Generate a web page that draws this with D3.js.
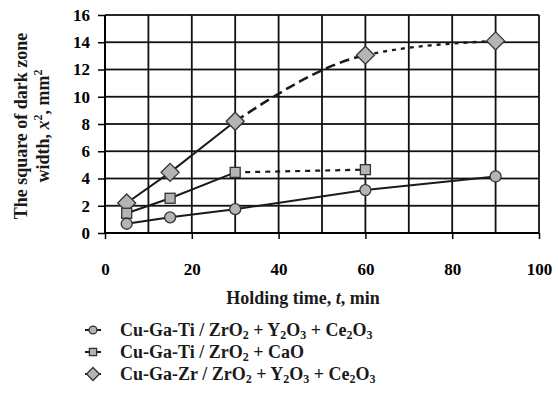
<!DOCTYPE html>
<html><head><meta charset="utf-8">
<script src="https://cdn.jsdelivr.net/npm/d3@7"></script>
<style>body{margin:0;background:#fff}</style>
</head><body><svg id="c" width="558" height="410"></svg>
<script>
const timeMin = [5, 15, 30, 60, 90];
const timeSquare = [5, 15, 30, 60];
const seriesCircle = [0.68, 1.15, 1.75, 3.15, 4.15];
const seriesSquare = [1.45, 2.55, 4.45, 4.65];
const seriesDiamond = [2.2, 4.45, 8.2, 13.05, 14.1];
const xTicks = [0, 20, 40, 60, 80, 100];
const yTicks = [0, 2, 4, 6, 8, 10, 12, 14, 16];
const xGrid = [10, 20, 30, 40, 50, 60, 70, 80, 90, 100];
const yGrid = [2, 4, 6, 8, 10, 12, 14, 16];
const legendLabels = [
  [["Cu-Ga-Ti / ZrO",0],["2",1],[" + Y",0],["2",1],["O",0],["3",1],[" + Ce",0],["2",1],["O",0],["3",1]],
  [["Cu-Ga-Ti / ZrO",0],["2",1],[" + CaO",0]],
  [["Cu-Ga-Zr / ZrO",0],["2",1],[" + Y",0],["2",1],["O",0],["3",1],[" + Ce",0],["2",1],["O",0],["3",1]]
];
const markerTypes = ["circle", "square", "diamond"];

const FONT = "serif";
const svg = d3.select("#c");
const L = 105, R = 539, T = 15, B = 233;
const xs = d3.scaleLinear().domain([0, 100]).range([L, R]);
const ys = d3.scaleLinear().domain([0, 16]).range([B, T]);

// grid drawn as thin filled rectangles
svg.selectAll("rect.hgrid").data(yGrid).enter().append("rect").attr("class", "hgrid")
  .attr("x", L).attr("width", R - L).attr("y", d => ys(d) - 0.9).attr("height", 1.8).attr("fill", "#111");
svg.selectAll("rect.vgrid").data(xGrid).enter().append("rect").attr("class", "vgrid")
  .attr("x", d => xs(d) - 0.9).attr("width", 1.8).attr("y", T).attr("height", B - T).attr("fill", "#111");

// axes
const gx = svg.append("g").attr("transform", `translate(0,${B})`)
  .call(d3.axisBottom(xs).tickValues(xTicks).tickSize(6).tickPadding(24).tickFormat(d3.format("d")));
const gy = svg.append("g").attr("transform", `translate(${L},0)`)
  .call(d3.axisLeft(ys).tickValues(yTicks).tickSize(7).tickPadding(8).tickFormat(d3.format("d")));
[gx, gy].forEach(a => {
  a.attr("font-family", FONT);
  a.select(".domain").attr("stroke-width", 2);
  a.selectAll(".tick line").attr("stroke-width", 1.5);
  a.selectAll("text").attr("font-family", FONT).attr("font-weight", "bold").attr("font-size", 17);
});
gy.select(".domain").attr("d", `M0,${B}V${T}`);
gx.select(".domain").attr("d", `M${L},0H${R}`);

// lines
const line = d3.line().x(d => xs(d[0])).y(d => ys(d[1]));
const pts = (a, b) => a.map((v, i) => [v, b[i]]);
const cPts = pts(timeMin, seriesCircle);
const sPts = pts(timeSquare, seriesSquare);
const dPts = pts(timeMin, seriesDiamond);
const addPath = (d, w, dash) => svg.append("path").attr("d", d).attr("fill", "none").attr("stroke", "#1a1a1a").attr("stroke-width", w).attr("stroke-dasharray", dash);
addPath(line(cPts), 2, null);
addPath(line(sPts.slice(0, 3)), 2, null);
addPath(line(sPts.slice(2)), 2.2, "5,5");
addPath(line(dPts.slice(0, 3)), 2, null);

const segs = [];
const rec = {
  cur: [0, 0],
  moveTo(a, b) { this.cur = [a, b]; },
  lineTo(a, b) { segs.push(`M${this.cur}L${a},${b}`); this.cur = [a, b]; },
  bezierCurveTo(a, b, c, d, e, f) { segs.push(`M${this.cur}C${a},${b},${c},${d},${e},${f}`); this.cur = [e, f]; },
  closePath() {}
};
d3.line().x(d => xs(d[0])).y(d => ys(d[1])).curve(d3.curveMonotoneX).context(rec)(dPts.slice(2));
addPath(segs[0], 2.6, "10,5");
addPath(segs[1], 2.4, "4,5");

// markers
function drawMarker(type, cx, cy, s) {
  let el;
  if (type === "circle") el = svg.append("circle").attr("cx", cx).attr("cy", cy).attr("r", 5.5 * s);
  else if (type === "square") el = svg.append("rect").attr("x", cx - 5 * s).attr("y", cy - 5 * s).attr("width", 10 * s).attr("height", 10 * s);
  else el = svg.append("path").attr("d", `M${cx},${cy - 9 * s}L${cx + 9 * s},${cy}L${cx},${cy + 9 * s}L${cx - 9 * s},${cy}Z`);
  el.attr("fill", "#b4b4b4").attr("stroke", "#333").attr("stroke-width", 1.3);
}
dPts.forEach(p => drawMarker("diamond", xs(p[0]), ys(p[1]), 1));
sPts.forEach(p => drawMarker("square", xs(p[0]), ys(p[1]), 1));
cPts.forEach(p => drawMarker("circle", xs(p[0]), ys(p[1]), 1));

function addText(px, py, size, anchor, transform) {
  const t = svg.append("text").attr("x", px).attr("y", py).attr("font-family", FONT)
    .attr("font-weight", "bold").attr("font-size", size).attr("fill", "#1a1a1a");
  if (anchor) t.attr("text-anchor", anchor);
  if (transform) t.attr("transform", transform);
  return t;
}

// axis titles
addText(303, 304, 18, "middle").call(t => {
  t.append("tspan").text("Holding time, ");
  t.append("tspan").attr("font-style", "italic").text("t");
  t.append("tspan").text(", min");
});
addText(0, 27, 18, "middle", "translate(0,126) rotate(-90)").text("The square of dark zone");
addText(0, 49, 18, "middle", "translate(0,126) rotate(-90)").call(t => {
  t.append("tspan").text("width, ");
  t.append("tspan").attr("font-style", "italic").text("x");
  t.append("tspan").attr("font-size", 12).attr("dy", -7).text("2");
  t.append("tspan").attr("dy", 7).text(", mm");
  t.append("tspan").attr("font-size", 12).attr("dy", -7).text("2");
});

// legend
legendLabels.forEach((parts, i) => {
  const cy = 330 + i * 22;
  svg.append("line").attr("x1", 85).attr("x2", 101).attr("y1", cy).attr("y2", cy).attr("stroke", "#1a1a1a").attr("stroke-width", 2);
  drawMarker(markerTypes[i], 93, cy, 0.72);
  const t = addText(120, cy + 6, 18, null);
  let prevSub = 0;
  parts.forEach(([s, sub]) => {
    const dy = sub ? (prevSub ? 0 : 3) : (prevSub ? -3 : 0);
    const ts = t.append("tspan").attr("dy", dy).text(s);
    if (sub) ts.attr("font-size", 12);
    prevSub = sub;
  });
});
</script></body></html>
